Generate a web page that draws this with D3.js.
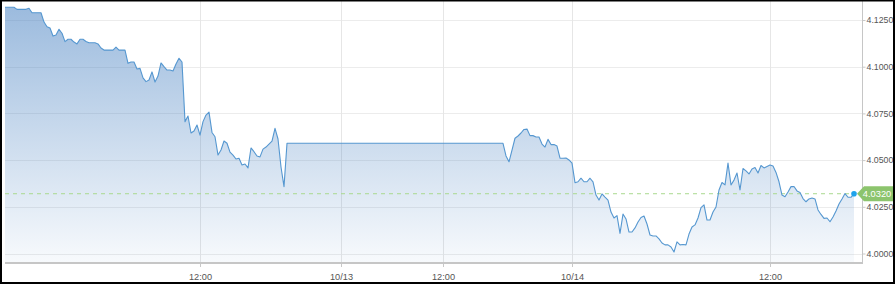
<!DOCTYPE html>
<html lang="en-US">
<head>
<meta charset="utf-8">
<style>
  body { margin: 0; background: #fff; }
  svg text { font-family: "Liberation Sans", Arial, sans-serif; }
</style>
</head>
<body>
  <div id="chart"></div>
  <script src="https://cdnjs.cloudflare.com/ajax/libs/d3/7.8.5/d3.min.js"></script>
  <script>
    var WIDTH = 895;
    var HEIGHT = 284;

    // price samples, left to right (one per sample step)
    var price = [
      4.1318, 4.1318, 4.1318, 4.1318, 4.1307, 4.1307, 4.1307, 4.1307, 4.1313, 4.1289,
      4.1289, 4.1289, 4.1289, 4.1239, 4.1214, 4.1207, 4.1164, 4.1170, 4.1200, 4.1179,
      4.1134, 4.1147, 4.1147, 4.1132, 4.1122, 4.1147, 4.1147, 4.1135, 4.1128, 4.1128,
      4.1128, 4.1122, 4.1100, 4.1089, 4.1089, 4.1089, 4.1089, 4.1105, 4.1089, 4.1089,
      4.1089, 4.1018, 4.1025, 4.1025, 4.0988, 4.0991, 4.0940, 4.0920, 4.0929, 4.0972,
      4.0918, 4.0950, 4.1020, 4.1000, 4.0982, 4.0982, 4.0977, 4.1014, 4.1045, 4.1025,
      4.0706, 4.0736, 4.0645, 4.0656, 4.0688, 4.0634, 4.0706, 4.0741, 4.0757, 4.0648,
      4.0625, 4.0527, 4.0554, 4.0602, 4.0590, 4.0543, 4.0527, 4.0506, 4.0510, 4.0474,
      4.0479, 4.0458, 4.0565, 4.0545, 4.0522, 4.0517, 4.0559, 4.0570, 4.0586, 4.0602,
      4.0670, 4.0613, 4.0463, 4.0358, 4.0590, 4.0590, 4.0590, 4.0590, 4.0590, 4.0590,
      4.0590, 4.0590, 4.0590, 4.0590, 4.0590, 4.0590, 4.0590, 4.0590, 4.0590, 4.0590,
      4.0590, 4.0590, 4.0590, 4.0590, 4.0590, 4.0590, 4.0590, 4.0590, 4.0590, 4.0590,
      4.0590, 4.0590, 4.0590, 4.0590, 4.0590, 4.0590, 4.0590, 4.0590, 4.0590, 4.0590,
      4.0590, 4.0590, 4.0590, 4.0590, 4.0590, 4.0590, 4.0590, 4.0590, 4.0590, 4.0590,
      4.0590, 4.0590, 4.0590, 4.0590, 4.0590, 4.0590, 4.0590, 4.0590, 4.0590, 4.0590,
      4.0590, 4.0590, 4.0590, 4.0590, 4.0590, 4.0590, 4.0590, 4.0590, 4.0590, 4.0590,
      4.0590, 4.0590, 4.0590, 4.0590, 4.0590, 4.0590, 4.0590, 4.0522, 4.0491, 4.0554,
      4.0617, 4.0629, 4.0645, 4.0664, 4.0666, 4.0631, 4.0631, 4.0624, 4.0624, 4.0586,
      4.0570, 4.0611, 4.0583, 4.0583, 4.0575, 4.0510, 4.0510, 4.0511, 4.0501, 4.0484,
      4.0379, 4.0384, 4.0403, 4.0384, 4.0384, 4.0403, 4.0383, 4.0313, 4.0286, 4.0319,
      4.0302, 4.0286, 4.0222, 4.0190, 4.0203, 4.0108, 4.0211, 4.0185, 4.0115, 4.0115,
      4.0137, 4.0169, 4.0193, 4.0201, 4.0158, 4.0099, 4.0094, 4.0094, 4.0078, 4.0056,
      4.0046, 4.0046, 4.0035, 4.0008, 4.0062, 4.0046, 4.0048, 4.0046, 4.0104, 4.0142,
      4.0153, 4.0190, 4.0246, 4.0260, 4.0179, 4.0179, 4.0222, 4.0249, 4.0340, 4.0380,
      4.0367, 4.0484, 4.0367, 4.0393, 4.0431, 4.0340, 4.0455, 4.0442, 4.0426, 4.0452,
      4.0460, 4.0431, 4.0471, 4.0458, 4.0466, 4.0474, 4.0468, 4.0434, 4.0384, 4.0313,
      4.0304, 4.0329, 4.0358, 4.0359, 4.0335, 4.0327, 4.0294, 4.0277, 4.0292, 4.0297,
      4.0292, 4.0233, 4.0209, 4.0188, 4.0190, 4.0170, 4.0195, 4.0228, 4.0265, 4.0292,
      4.0321, 4.0301, 4.0301, 4.0320
    ];

    // x axis: sample index where each label sits
    var xTickPos = [65, 112, 146, 189, 255];
    var xTickLabels = ['12:00', '10/13', '12:00', '10/14', '12:00'];

    // y axis ticks
    var yTicks = [4.0000, 4.0250, 4.0500, 4.0750, 4.1000, 4.1250];

    var lastPrice = 4.0320;

    var plotLeft = 5, dataRight = 854, axisX = 862, plotBottom = 263;

    var svg = d3.select('#chart').append('svg')
      .attr('width', WIDTH).attr('height', HEIGHT);

    var x = d3.scaleLinear().domain([0, price.length - 1]).range([plotLeft, dataRight]);
    var y = d3.scaleLinear().domain([4.0, 4.125]).range([253.5, 20]);

    // gradient for the area
    var grad = svg.append('defs').append('linearGradient')
      .attr('id', 'areaGrad')
      .attr('gradientUnits', 'userSpaceOnUse')
      .attr('x1', 0).attr('y1', 0).attr('x2', 0).attr('y2', plotBottom);
    grad.append('stop').attr('offset', '0%').attr('stop-color', 'rgb(70,128,193)').attr('stop-opacity', 0.55);
    grad.append('stop').attr('offset', '100%').attr('stop-color', 'rgb(70,128,193)').attr('stop-opacity', 0.04);

    // grid
    svg.append('g').selectAll('line').data(yTicks).join('line')
      .attr('x1', plotLeft).attr('x2', axisX)
      .attr('y1', d => Math.round(y(d)) + 0.5).attr('y2', d => Math.round(y(d)) + 0.5)
      .attr('stroke', '#ececec');
    svg.append('g').selectAll('line').data(xTickPos).join('line')
      .attr('x1', d => Math.round(x(d)) + 0.5).attr('x2', d => Math.round(x(d)) + 0.5)
      .attr('y1', 0).attr('y2', plotBottom)
      .attr('stroke', '#e6e6e6');

    // area + line
    var area = d3.area()
      .x((d, i) => x(i))
      .y0(plotBottom)
      .y1(d => y(d));
    svg.append('path').datum(price)
      .attr('d', area)
      .attr('fill', 'url(#areaGrad)');

    // last price dashed line
    svg.append('line')
      .attr('x1', plotLeft).attr('x2', dataRight)
      .attr('y1', y(lastPrice)).attr('y2', y(lastPrice))
      .attr('stroke', '#a9d98f').attr('stroke-width', 1)
      .attr('stroke-dasharray', '4,4');

    var line = d3.line()
      .x((d, i) => x(i))
      .y(d => y(d));
    svg.append('path').datum(price)
      .attr('d', line)
      .attr('fill', 'none')
      .attr('stroke', '#5597d0')
      .attr('stroke-width', 1.1)
      .attr('stroke-linejoin', 'round');

    svg.append('circle')
      .attr('cx', x(price.length - 1)).attr('cy', y(price[price.length - 1]))
      .attr('r', 2.8).attr('fill', '#1fa2ec');

    // axes
    var yAxis = d3.axisRight(y).tickValues(yTicks).tickFormat(d3.format('.4f')).tickSize(3).tickPadding(1);
    var gy = svg.append('g').attr('transform', 'translate(' + (axisX + 0.5) + ',0)').call(yAxis);
    gy.select('.domain').remove();
    gy.selectAll('line').attr('stroke', '#c8c8c8');
    gy.selectAll('text').attr('fill', '#555').style('font-size', '8.8px');

    var xAxis = d3.axisBottom(x).tickValues(xTickPos).tickFormat((d, i) => xTickLabels[i]).tickSize(4).tickPadding(6);
    var gx = svg.append('g').attr('transform', 'translate(0,' + plotBottom + ')').call(xAxis);
    gx.select('.domain').remove();
    gx.selectAll('line').attr('stroke', '#c8c8c8');
    gx.selectAll('text').attr('fill', '#555').style('font-size', '9.2px');

    // axis lines
    svg.append('line').attr('x1', plotLeft).attr('x2', axisX + 1)
      .attr('y1', plotBottom).attr('y2', plotBottom)
      .attr('stroke', '#c6c6c6').attr('stroke-width', 2);
    svg.append('line').attr('x1', axisX + 0.5).attr('x2', axisX + 0.5)
      .attr('y1', 0).attr('y2', plotBottom)
      .attr('stroke', '#c6c6c6').attr('stroke-width', 1);

    // last price tag
    var ly = y(lastPrice);
    var tag = svg.append('g');
    tag.append('path')
      .attr('d', 'M' + (axisX - 5) + ',' + ly + 'L' + (axisX + 2) + ',' + (ly - 7.5) + 'L893,' + (ly - 7.5) + 'L893,' + (ly + 7.5) + 'L' + (axisX + 2) + ',' + (ly + 7.5) + 'Z')
      .attr('fill', '#8cc46d');
    tag.append('text')
      .attr('x', 877).attr('y', ly).attr('dy', '0.35em')
      .attr('text-anchor', 'middle').attr('fill', '#fff')
      .style('font-size', '9.3px')
      .text(d3.format('.4f')(lastPrice));

    // outer frame
    svg.append('rect').attr('x', 1).attr('y', 0.5).attr('width', 893).attr('height', 282.5)
      .attr('fill', 'none').attr('stroke', '#000').attr('stroke-width', 2);
  </script>
</body>
</html>
